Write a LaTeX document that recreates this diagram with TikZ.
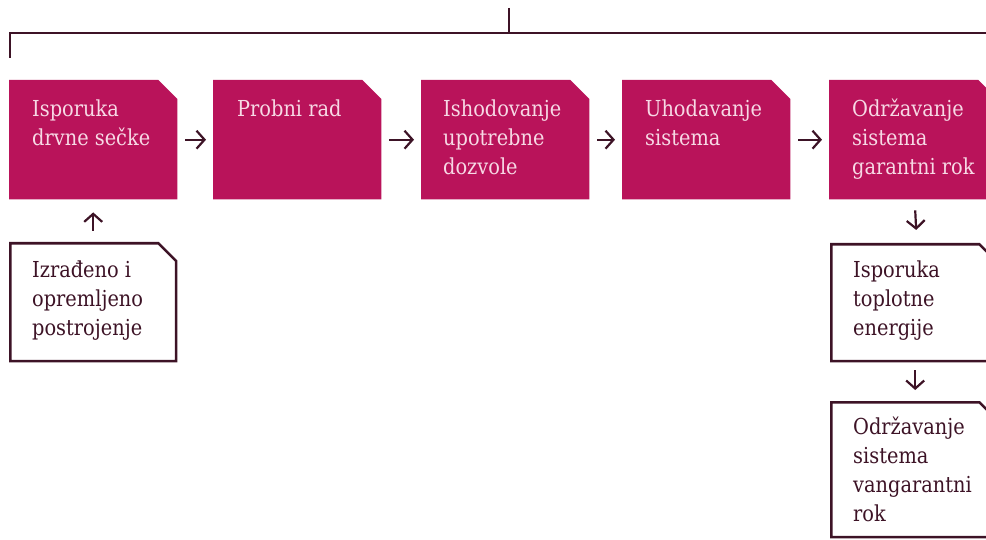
\documentclass[tikz,border=0pt]{standalone}
\usepackage{fontspec}
\usetikzlibrary{arrows.meta}
\newfontfamily\boxfont[FakeStretch=0.88]{DejaVu Serif}
\definecolor{magC}{HTML}{B9135A}
\definecolor{pinkT}{HTML}{F7D9E5}
\definecolor{darkC}{HTML}{3D1326}
\tikzset{
  x=1pt, y=1pt,
  stagebox/.style={rectangle, inner sep=0pt, anchor=north west,
    minimum width=168pt, minimum height=119pt,
    append after command={\pgfextra{\fill[magC]
      (\tikzlastnode.south west) -- (\tikzlastnode.north west)
      -- ([xshift=-19pt]\tikzlastnode.north east)
      -- ([yshift=-19pt]\tikzlastnode.north east)
      -- (\tikzlastnode.south east) -- cycle;}}},
  outbox/.style={rectangle, inner sep=0pt, anchor=north west,
    minimum width=168pt, minimum height=119pt,
    append after command={\pgfextra{\draw[darkC, line width=2.6pt, line join=miter]
      ([shift={(1.3pt,1.3pt)}]\tikzlastnode.south west) -- ([shift={(1.3pt,-1.3pt)}]\tikzlastnode.north west)
      -- ([shift={(-19pt,-1.3pt)}]\tikzlastnode.north east)
      -- ([shift={(-1.3pt,-19pt)}]\tikzlastnode.north east)
      -- ([shift={(-1.3pt,1.3pt)}]\tikzlastnode.south east) -- cycle;}}},
  pinktext/.style={anchor=north west, inner sep=0pt, align=left, text=pinkT,
    font=\boxfont\fontsize{22}{29}\selectfont},
  darktext/.style={anchor=north west, inner sep=0pt, align=left, text=darkC,
    font=\boxfont\fontsize{22}{29}\selectfont},
  arr/.style={darkC, line width=2.2pt, -{Straight Barb[length=8pt,width=18pt]}},
  rule/.style={darkC, line width=2.2pt},
}
\begin{document}
\begin{tikzpicture}
\useasboundingbox (0,0) rectangle (986,-540);
\clip (0,0) rectangle (986,-540);

% top bracket
\coordinate (topmid) at (509,-8);
\coordinate (junction) at (509,-33);
\coordinate (leftend) at (10,-58);
\coordinate (rightend) at (1000,-33);
\draw[rule] (leftend) -- (10,-33) -- (rightend);
\draw[rule] (topmid) -- (junction);

% stage boxes
\node[stagebox] (b1) at (9,-80) {};
\node[stagebox] (b2) at (213,-80) {};
\node[stagebox] (b3) at (421,-80) {};
\node[stagebox] (b4) at (622,-80) {};
\node[stagebox] (b5) at (829,-80) {};

\node[pinktext] (t1) at ([shift={(23pt,-15.7pt)}]b1.north west) {\strut Isporuka\\drvne sečke};
\node[pinktext] (t2) at ([shift={(24pt,-15.7pt)}]b2.north west) {\strut Probni rad};
\node[pinktext] (t3) at ([shift={(22pt,-15.7pt)}]b3.north west) {\strut Ishodovanje\\upotrebne\\dozvole};
\node[pinktext] (t4) at ([shift={(23pt,-15.7pt)}]b4.north west) {\strut Uhodavanje\\sistema};
\node[pinktext] (t5) at ([shift={(23pt,-15.7pt)}]b5.north west) {\strut Održavanje\\sistema\\garantni rok};

% outline boxes
\node[outbox, minimum height=120pt] (o1) at (9,-242) {};
\node[outbox] (o2) at (830,-243) {};
\node[outbox, minimum height=137pt] (o3) at (830,-401) {};

\node[darktext] (u1) at ([shift={(23pt,-15pt)}]o1.north west) {\strut Izrađeno i\\opremljeno\\postrojenje};
\node[darktext] (u2) at ([shift={(23pt,-14pt)}]o2.north west) {\strut Isporuka\\toplotne\\energije};
\node[darktext] (u3) at ([shift={(23pt,-13pt)}]o3.north west) {\strut Održavanje\\sistema\\vangarantni\\rok};

% arrows
\draw[arr] ([xshift=8pt]b1.east) -- ([xshift=-7pt]b2.west);
\draw[arr] ([xshift=8pt]b2.east) -- ([xshift=-7pt]b3.west);
\draw[arr] ([xshift=8pt]b3.east) -- ([xshift=-7pt]b4.west);
\draw[arr] ([xshift=8pt]b4.east) -- ([xshift=-7pt]b5.west);
\draw[arr] ([yshift=11pt]o1.north) -- ([yshift=-13pt]b1.south);
\draw[arr] ([shift={(2pt,-11pt)}]b5.south) -- ([shift={(2pt,13pt)}]o2.north);
\draw[arr] ([shift={(1pt,-8pt)}]o2.south) -- ([shift={(1pt,11pt)}]o3.north);
\end{tikzpicture}
\end{document}
